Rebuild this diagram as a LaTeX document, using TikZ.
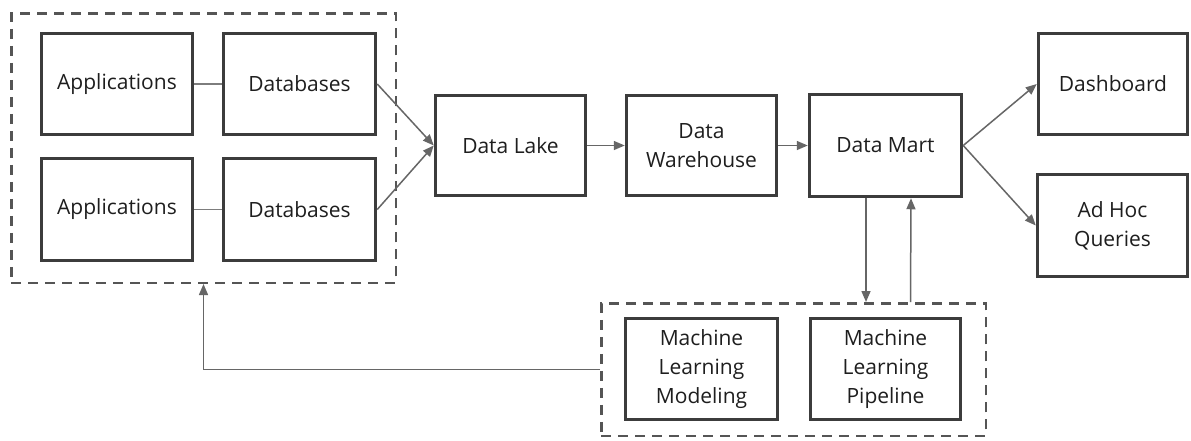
\documentclass[tikz,border=0pt]{standalone}
\usepackage{fontspec}
\setmainfont{Open Sans}
\usetikzlibrary{arrows.meta}
\definecolor{boxc}{HTML}{3C3C3C}
\definecolor{linec}{HTML}{666666}
\definecolor{dashc}{HTML}{555555}
\definecolor{txtc}{HTML}{1E1E1E}
\tikzset{
  blk/.style={draw=boxc, line width=3.5pt, rectangle, inner sep=0pt, align=center, text=txtc,
     font=\fontsize{21}{29}\selectfont},
  grp/.style={draw=dashc, line width=2.5pt, dash pattern=on 10pt off 7pt, rectangle, inner sep=0pt},
  conn/.style={draw=linec, line width=1.5pt, -{Triangle[length=11pt,width=9pt]}},
  plain/.style={draw=linec!85, line width=1.5pt}
}
\begin{document}
\begin{tikzpicture}[x=1pt,y=-1pt]
\useasboundingbox[fill=white] (0,0) rectangle (1191,440);
% groups
\node[grp, minimum width=384.5pt, minimum height=269.5pt] (g1) at (203.5,148) {};
\node[grp, minimum width=384.5pt, minimum height=132.5pt] (g2) at (793.5,369.5) {};
% blocks
\node[blk, minimum width=151pt, minimum height=101pt] (app1) at (117,84) {Applications};
\node[blk, minimum width=152pt, minimum height=101pt] (db1) at (299.5,84) {Databases};
\node[blk, minimum width=151pt, minimum height=102pt] (app2) at (117,209.5) {Applications};
\node[blk, minimum width=152pt, minimum height=102pt] (db2) at (299.5,209.5) {Databases};
\node[blk, minimum width=150pt, minimum height=100pt] (lake) at (510.5,145.5) {Data Lake};
\node[blk, minimum width=150pt, minimum height=100pt] (dw) at (701.5,145.5) {Data\\Warehouse};
\node[blk, minimum width=152pt, minimum height=102pt] (dm) at (885.5,145.5) {Data Mart};
\node[blk, minimum width=149pt, minimum height=101pt] (dash) at (1113,84) {Dashboard};
\node[blk, minimum width=150pt, minimum height=102pt] (adhoc) at (1112.5,225.5) {Ad Hoc\\Queries};
\node[blk, minimum width=152pt, minimum height=101pt] (mlm) at (701.5,369) {Machine\\Learning\\Modeling};
\node[blk, minimum width=150pt, minimum height=101pt] (mlp) at (885.5,369) {Machine\\Learning\\Pipeline};
% connectors
\draw[plain] (app1.east) -- (db1.west);
\draw[plain] (app2.east) -- (db2.west);
\draw[conn] (db1.east) -- (lake.west);
\draw[conn] (db2.east) -- (lake.west);
\draw[conn] (lake.east) -- (dw.west);
\draw[conn] (dw.east) -- (dm.west);
\draw[conn] (dm.east) -- (dash.west);
\draw[conn] (dm.east) -- (adhoc.west);
\draw[conn] ([xshift=-19.5pt]dm.south) -- ([xshift=-19.5pt]dm.south |- g2.north);
\draw[conn] ([xshift=25pt]dm.south |- g2.north) -- ([xshift=25.5pt]dm.south);
\draw[conn] (g2.west) -| (g1.south);
\end{tikzpicture}
\end{document}
